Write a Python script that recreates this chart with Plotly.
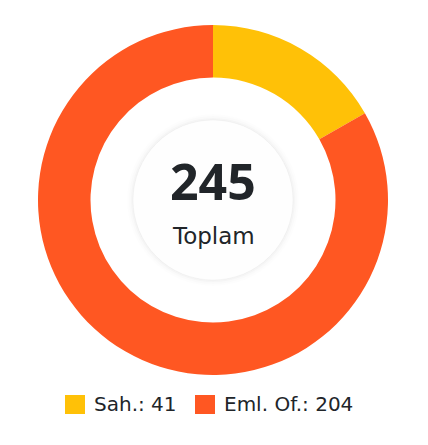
import plotly.graph_objects as go

# dati
etichette = ["Sah.", "Eml. Of."]
valori = [41, 204]
colori = ["#FFC107", "#FF5722"]
testo_centro = "Toplam"

W, H = 428, 445
OFF = 8  # margine del body della pagina html
FONT_NUM = "Open Sans"
FONT = "DejaVu Sans"
TESTO = "#212529"

# centro e dimensione della ciambella (pixel nella pagina)
cx, cy, r_est = 213, 200, 175


def px_x(x):
    return (x - OFF) / W


def px_y(y):
    return 1 - (y - OFF) / H


fig = go.Figure()
fig.add_trace(go.Pie(
    labels=etichette, values=valori, hole=0.70, sort=False, direction="clockwise",
    rotation=0, marker=dict(colors=colori, line=dict(width=0)),
    textinfo="none", hoverinfo="label+value", showlegend=False,
    domain=dict(x=[px_x(cx - r_est), px_x(cx + r_est)], y=[px_y(cy + r_est), px_y(cy - r_est)]),
))

# cerchio interno con leggera ombra
forme = []
for r, col in [(86, "rgba(0,0,0,0.008)"), (84, "rgba(0,0,0,0.012)"), (82, "rgba(0,0,0,0.018)")]:
    forme.append(dict(type="circle", xref="paper", yref="paper", xsizemode="pixel", ysizemode="pixel",
                      xanchor=px_x(cx), yanchor=px_y(cy), x0=-r, x1=r, y0=-r, y1=r,
                      fillcolor=col, line=dict(width=0), layer="below"))
forme.append(dict(type="circle", xref="paper", yref="paper", xsizemode="pixel", ysizemode="pixel",
                  xanchor=px_x(cx), yanchor=px_y(cy), x0=-80, x1=80, y0=-80, y1=80,
                  fillcolor="#fefefe", line=dict(width=1, color="rgba(0,0,0,0.03)"), layer="below"))

annotazioni = [
    dict(text="<b>%d</b>" % sum(valori), x=px_x(cx), y=px_y(181), xref="paper", yref="paper",
         showarrow=False, font=dict(family=FONT_NUM, size=50, color=TESTO), xanchor="center", yanchor="middle"),
    dict(text=testo_centro, x=px_x(cx), y=px_y(236), xref="paper", yref="paper",
         showarrow=False, font=dict(family=FONT, size=23, color=TESTO), xanchor="center", yanchor="middle"),
]

# legenda manuale
pos_leg = [65, 195]
for i in range(len(etichette)):
    x0 = pos_leg[i]
    forme.append(dict(type="rect", xref="paper", yref="paper",
                      x0=px_x(x0), x1=px_x(x0 + 20), y0=px_y(414), y1=px_y(395),
                      fillcolor=colori[i], line=dict(width=0)))
    annotazioni.append(dict(text="%s: %d" % (etichette[i], valori[i]), x=px_x(x0 + 27), y=px_y(404),
                            xref="paper", yref="paper", showarrow=False, xanchor="left", yanchor="middle",
                            font=dict(family=FONT, size=20, color=TESTO)))

fig.update_layout(
    width=W, height=H, margin=dict(l=0, r=0, t=0, b=0),
    paper_bgcolor="white", plot_bgcolor="white",
    shapes=forme, annotations=annotazioni,
)

fig.write_html("out.html")
